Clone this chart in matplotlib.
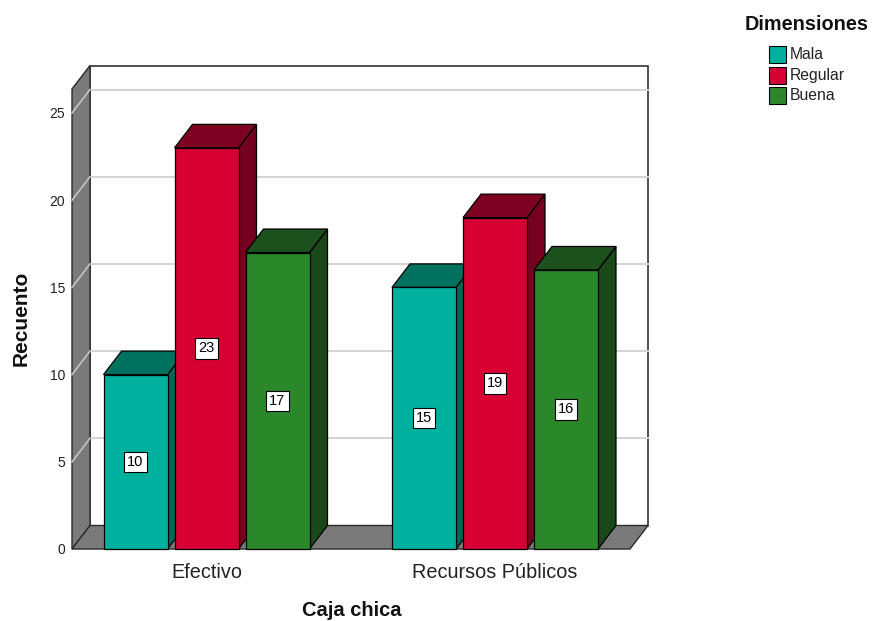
import matplotlib
matplotlib.use("Agg")
import matplotlib.pyplot as plt
from matplotlib.patches import Polygon, Rectangle

plt.rcParams['font.family'] = ['Liberation Sans', 'DejaVu Sans']

# Data
categories = ["Efectivo", "Recursos Públicos"]
series_names = ["Mala", "Regular", "Buena"]
values = {
    "Mala": [10, 15],
    "Regular": [23, 19],
    "Buena": [17, 16],
}
y_ticks = [0, 5, 10, 15, 20, 25]

# Face colours: front, top, side
front_colors = {"Mala": "#00b09e", "Regular": "#d60032", "Buena": "#2a882a"}
top_colors = {"Mala": "#00705f", "Regular": "#7e0020", "Buena": "#1c501c"}
side_colors = {"Mala": "#006656", "Regular": "#74001d", "Buena": "#194819"}

W, H = 876, 621
fig = plt.figure(figsize=(W / 100, H / 100), dpi=100)

# Front plane of the plot box in pixels
px_left, px_right, px_bottom, px_top = 72, 630, 549, 89
ax = fig.add_axes([px_left / W, 1 - px_bottom / H,
                   (px_right - px_left) / W, (px_bottom - px_top) / H])

unit_px = 288.5      # pixels per category step
val_px = 17.44       # pixels per count unit
xmin = (px_left - 206.5) / unit_px
xmax = (px_right - 206.5) / unit_px
ymax = (px_bottom - px_top) / val_px
ax.set_xlim(xmin, xmax)
ax.set_ylim(0, ymax)

# Depth offset of the 3D box, in data units
ddx = 18 / unit_px
ddy = 23.5 / val_px

bar_w = 64 / unit_px
bar_step = 71 / unit_px

for s in ax.spines.values():
    s.set_visible(False)

# Back wall
ax.add_patch(Rectangle((xmin + ddx, ddy), xmax - xmin, ymax, facecolor="white",
                       edgecolor="#333333", lw=1.2, clip_on=False, zorder=1))
# Grid lines on the back wall
for t in y_ticks[1:]:
    ax.plot([xmin + ddx, xmax + ddx], [t + ddy, t + ddy], color="#d3d3d3",
            lw=1.4, clip_on=False, zorder=2)

# Left wall
ax.add_patch(Polygon([(xmin, 0), (xmin + ddx, ddy), (xmin + ddx, ymax + ddy),
                      (xmin, ymax)], closed=True, facecolor="#7a7a7a",
                     edgecolor="#2a2a2a", lw=1.0, clip_on=False, zorder=3))
for t in y_ticks[1:]:
    ax.plot([xmin, xmin + ddx], [t, t + ddy], color="#c4c4c4", lw=1.2,
            clip_on=False, zorder=4)

# Floor
ax.add_patch(Polygon([(xmin, 0), (xmax, 0), (xmax + ddx, ddy), (xmin + ddx, ddy)],
                     closed=True, facecolor="#7a7a7a", edgecolor="#2a2a2a",
                     lw=1.0, clip_on=False, zorder=3))

# Bars
z = 5
for ci, cat in enumerate(categories):
    for si, name in enumerate(series_names):
        v = values[name][ci]
        xc = ci + (si - 1) * bar_step
        x0, x1 = xc - bar_w / 2, xc + bar_w / 2
        ax.add_patch(Polygon([(x1, 0), (x1 + ddx, ddy), (x1 + ddx, v + ddy), (x1, v)],
                             closed=True, facecolor=side_colors[name],
                             edgecolor="black", lw=0.9, clip_on=False, zorder=z))
        ax.add_patch(Polygon([(x0, v), (x1, v), (x1 + ddx, v + ddy), (x0 + ddx, v + ddy)],
                             closed=True, facecolor=top_colors[name],
                             edgecolor="black", lw=0.9, clip_on=False, zorder=z))
        ax.bar(xc, v, width=bar_w, color=front_colors[name], edgecolor="black",
               lw=0.9, zorder=z + 0.5, clip_on=False)
        ax.text(xc, v / 2, str(v), ha="center", va="center", fontsize=10.5,
                color="black", zorder=z + 1,
                bbox=dict(boxstyle="square,pad=0.22", fc="white", ec="black", lw=0.8))
        z += 2

# Axes ticks
ax.set_yticks(y_ticks)
ax.set_yticklabels([str(t) for t in y_ticks], fontsize=10, color="#222222")
ax.set_xticks(range(len(categories)))
ax.set_xticklabels(categories, fontsize=14.3, color="#222222")
ax.tick_params(axis="y", length=0, pad=5)
ax.tick_params(axis="x", length=0, pad=10)

fig.text(352 / W, 1 - 611 / H, "Caja chica", ha="center", va="center",
         fontsize=14.5, fontweight="bold", color="#111111")
fig.text(21 / W, 1 - 318 / H, "Recuento", ha="center", va="center",
         rotation=90, fontsize=15, fontweight="bold", color="#111111")

# Legend
fig.text(807 / W, 1 - 24.5 / H, "Dimensiones", ha="center", va="center",
         fontsize=14.3, fontweight="bold", color="#111111")
for i, name in enumerate(series_names):
    ytop = 46 + i * 20.7
    fig.patches.append(Rectangle((769 / W, 1 - (ytop + 17) / H), 17 / W, 17 / H,
                                 transform=fig.transFigure, facecolor=front_colors[name],
                                 edgecolor="black", lw=0.8))
    fig.text(789.5 / W, 1 - (ytop + 8.5) / H, name, ha="left", va="center",
             fontsize=11.3, color="#222222")

fig.savefig("out.png", dpi=100)
